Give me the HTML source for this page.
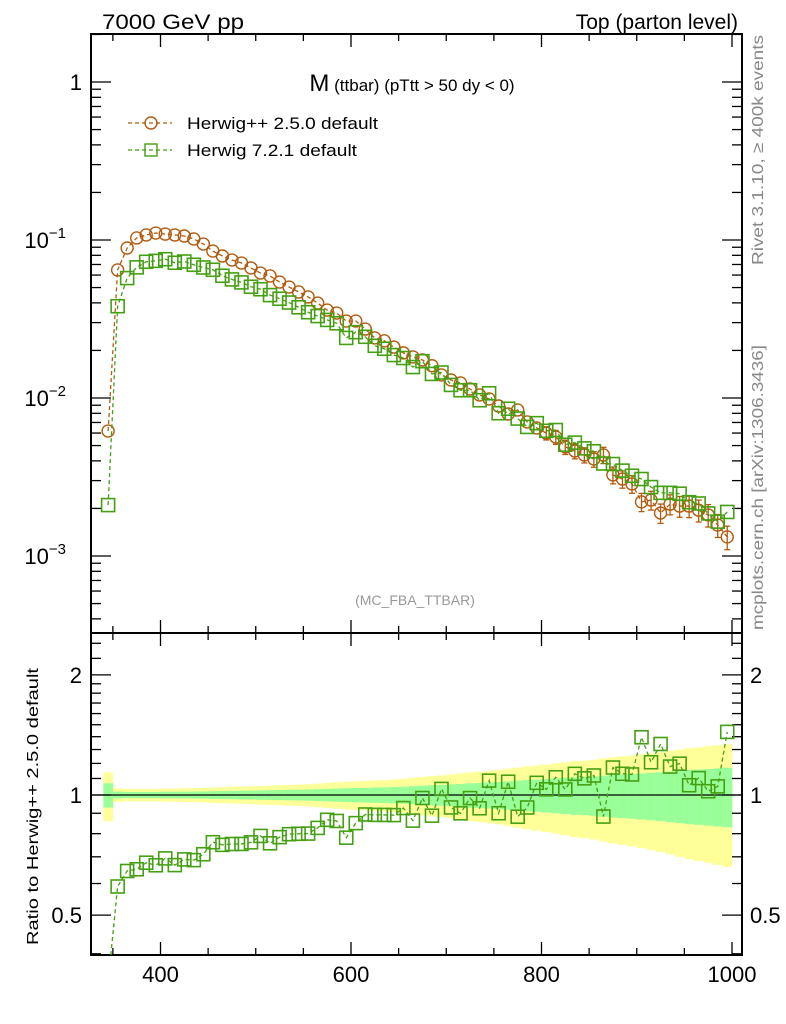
<!DOCTYPE html>
<html><head><meta charset="utf-8"><style>
html,body{margin:0;padding:0;background:#fff;}
svg{display:block;font-family:"Liberation Sans",sans-serif;}
</style></head><body>
<svg id="c" width="786" height="1024" viewBox="0 0 786 1024" xmlns="http://www.w3.org/2000/svg">
<text x="102" y="29" font-size="21" textLength="142" lengthAdjust="spacingAndGlyphs">7000 GeV pp</text>
<text x="738" y="29" font-size="21" text-anchor="end">Top (parton level)</text>
<text x="412" y="91" text-anchor="middle"><tspan font-size="24">M</tspan><tspan font-size="17"> (ttbar) (pTtt &gt; 50 dy &lt; 0)</tspan></text>
<text x="415" y="605" font-size="14" fill="#999" text-anchor="middle">(MC_FBA_TTBAR)</text>
<text transform="translate(763,265) rotate(-90)" font-size="16" fill="#888" textLength="230" lengthAdjust="spacingAndGlyphs">Rivet 3.1.10, ≥ 400k events</text>
<text transform="translate(763,630) rotate(-90)" font-size="16" fill="#888" textLength="285" lengthAdjust="spacingAndGlyphs">mcplots.cern.ch [arXiv:1306.3436]</text>
<text transform="translate(38,945) rotate(-90)" font-size="16" textLength="277" lengthAdjust="spacingAndGlyphs">Ratio to Herwig++ 2.5.0 default</text>
<g>
 <g>
  <line x1="128" y1="123" x2="172" y2="123" stroke="#b35a0c" stroke-width="1.3" stroke-dasharray="4,3"/>
  <circle cx="151" cy="123" r="6" fill="none" stroke="#b35a0c" stroke-width="1.4"/>
  <text x="187" y="129" font-size="17" textLength="191" lengthAdjust="spacingAndGlyphs">Herwig++ 2.5.0 default</text>
 </g>
 <g>
  <line x1="128" y1="150" x2="172" y2="150" stroke="#44a012" stroke-width="1.3" stroke-dasharray="4,3"/>
  <rect x="145" y="144" width="12" height="12" fill="none" stroke="#44a012" stroke-width="1.4"/>
  <text x="187" y="156" font-size="17" textLength="170" lengthAdjust="spacingAndGlyphs">Herwig 7.2.1 default</text>
 </g>
</g>
<g id="bands"></g>
<g id="axes"></g>
<g id="series"></g>
</svg>
<script>
const binCenters=[345,355,365,375,385,395,405,415,425,435,445,455,465,475,485,495,505,515,525,535,545,555,565,575,585,595,605,615,625,635,645,655,665,675,685,695,705,715,725,735,745,755,765,775,785,795,805,815,825,835,845,855,865,875,885,895,905,915,925,935,945,955,965,975,985,995];
const herwigpp=[0.00618,0.0646,0.0890,0.103,0.1076,0.1107,0.109,0.1076,0.106,0.1015,0.0943,0.0851,0.0792,0.0747,0.0715,0.0665,0.0618,0.0592,0.0542,0.0504,0.0469,0.0436,0.0399,0.0360,0.0345,0.0307,0.0307,0.0273,0.0240,0.0230,0.0210,0.0193,0.0182,0.0174,0.0160,0.0140,0.0130,0.01245,0.0114,0.01045,0.00986,0.0089,0.00792,0.0084,0.00705,0.00646,0.0060,0.00566,0.0049,0.00462,0.00436,0.00411,0.00436,0.00326,0.00307,0.00286,0.0022,0.00226,0.00187,0.00213,0.00207,0.00207,0.00195,0.00182,0.00157,0.00132];
const herwig7=[0.00210,0.0381,0.0574,0.0671,0.0728,0.0738,0.0756,0.0718,0.0731,0.0697,0.0670,0.0648,0.0594,0.0563,0.0539,0.0506,0.0488,0.0448,0.0425,0.0402,0.0375,0.0349,0.0330,0.0312,0.0297,0.0240,0.0261,0.0244,0.0214,0.0205,0.0187,0.0179,0.0157,0.0171,0.0142,0.0145,0.0121,0.0112,0.0112,0.00968,0.01071,0.00801,0.00855,0.00741,0.00656,0.00693,0.00620,0.00627,0.00506,0.00522,0.00480,0.00460,0.00385,0.00382,0.00347,0.00322,0.00307,0.00273,0.00251,0.00251,0.00248,0.00219,0.00215,0.00186,0.00165,0.00190];
const relErr=[0.07,0.02,0.018,0.018,0.018,0.018,0.019,0.019,0.02,0.02,0.021,0.022,0.023,0.024,0.025,0.026,0.027,0.028,0.029,0.03,0.031,0.032,0.034,0.036,0.038,0.04,0.041,0.042,0.044,0.045,0.047,0.049,0.052,0.055,0.058,0.06,0.063,0.066,0.07,0.072,0.075,0.078,0.082,0.086,0.09,0.093,0.096,0.1,0.104,0.108,0.11,0.113,0.118,0.122,0.125,0.128,0.132,0.136,0.14,0.145,0.15,0.155,0.158,0.162,0.166,0.17];
const xTickLabels=[400,600,800,1000];
const mainTickLabels=[1,0.1,0.01,0.001];
const ratioTickLabels=[2,1,0.5];

const NS="http://www.w3.org/2000/svg";
const L=91,R=742,T=34,M=633,B=955;
const X=v=>160.5+(v-400)*0.9525;
const Y=v=>82-158*Math.log10(v);
const YR=v=>795-399*Math.log10(v);
const BROWN="#b35a0c",GREEN="#44a012";
function mk(tag,attrs,parent){const e=document.createElementNS(NS,tag);for(const k in attrs)e.setAttribute(k,attrs[k]);parent.appendChild(e);return e;}
const bands=document.getElementById('bands'),axes=document.getElementById('axes'),series=document.getElementById('series');

const clipR=v=>Math.max(M,Math.min(B,v));
binCenters.forEach((c,i)=>{
  const x0=X(c-5),x1=X(c+5),e=relErr[i];
  const y=mk('rect',{x:x0,y:clipR(YR(1+2*e)),width:x1-x0+0.3,height:clipR(YR(Math.max(0.01,1-2*e)))-clipR(YR(1+2*e)),fill:'#ffff99'},bands);
  
  
  const g=mk('rect',{x:x0,y:YR(1+e),width:x1-x0+0.3,height:YR(1-e)-YR(1+e),fill:'#99ff99'},bands);
  
  
});
mk('line',{x1:L,x2:R,y1:YR(1),y2:YR(1),stroke:'#000','stroke-width':1.3},bands);

const f1=mk('rect',{x:L,y:T,width:R-L,height:M-T,fill:'none',stroke:'#000','stroke-width':2},axes);


const f2=mk('rect',{x:L,y:M,width:R-L,height:B-M,fill:'none',stroke:'#000','stroke-width':2},axes);



for(let v=350;v<=1000;v+=50){
  const x=X(v),len=(v%200===0)?13:7;
  [[T,1],[M,-1],[M,1],[B,-1]].forEach(([y,d])=>mk('line',{x1:x,x2:x,y1:y,y2:y+d*len,stroke:'#000','stroke-width':1.3},axes));
}
xTickLabels.forEach(v=>{
  const t=mk('text',{x:X(v),y:982,'font-size':22,'text-anchor':'middle'},axes);
  t.textContent=v;
  
  
});
for(let d=-4;d<=0;d++){
  for(let k=1;k<10;k++){
    const v=k*Math.pow(10,d),y=Y(v);
    if(y<T||y>M)continue;
    const len=k===1?20:10;
    mk('line',{x1:L,x2:L+len,y1:y,y2:y,stroke:'#000','stroke-width':1.3},axes);
    mk('line',{x1:R,x2:R-len,y1:y,y2:y,stroke:'#000','stroke-width':1.3},axes);
  }
}
mainTickLabels.forEach(v=>{
  const t=mk('text',{x:82,y:Y(v)+8,'font-size':22,'text-anchor':'end'},axes);
  
  
  if(v===1){t.textContent='1';}
  else{const e=Math.round(Math.log10(v));
    t.setAttribute('x',66);
    const a=document.createElementNS(NS,'tspan');a.textContent='10';t.appendChild(a);
    const b=document.createElementNS(NS,'tspan');b.textContent='−'+(-e);b.setAttribute('font-size',15);b.setAttribute('dy',-10);t.appendChild(b);
  }
});
[0.4,0.5,0.6,0.7,0.8,0.9,1,1.1,1.2,1.3,1.4,1.5,1.6,1.7,1.8,1.9,2,2.2,2.4].forEach(v=>{
  const y=YR(v);if(y<M||y>B)return;
  const len=(v===0.5||v===1||v===2)?20:10;
  mk('line',{x1:L,x2:L+len,y1:y,y2:y,stroke:'#000','stroke-width':1.3},axes);
  mk('line',{x1:R,x2:R-len,y1:y,y2:y,stroke:'#000','stroke-width':1.3},axes);
});
ratioTickLabels.forEach(v=>{
  [[82,'end'],[750,'start']].forEach(([x,a])=>{
    const t=mk('text',{x:x,y:YR(v)+8,'font-size':22,'text-anchor':a},axes);
    t.textContent=v;
    
    
  });
});

function drawSeries(vals,color,shape,errScale,name){
  const g=mk('g',{},series);
  
  
  const pts=binCenters.map((c,i)=>[X(c),Y(vals[i])]);
  mk('polyline',{points:pts.map(p=>p[0]+','+p[1]).join(' '),fill:'none',stroke:color,'stroke-width':1.3,'stroke-dasharray':'4,3'},g);
  pts.forEach((p,i)=>{
    const e=relErr[i]*errScale,v=vals[i];
    const y1=Y(v*(1+e)),y2=Y(v*(1-e));
    if(y2-y1>13){
      mk('line',{x1:p[0],x2:p[0],y1:y1,y2:y2,stroke:color,'stroke-width':1.3},g);
      mk('line',{x1:p[0]-3,x2:p[0]+3,y1:y1,y2:y1,stroke:color,'stroke-width':1.3},g);
      mk('line',{x1:p[0]-3,x2:p[0]+3,y1:y2,y2:y2,stroke:color,'stroke-width':1.3},g);
    }
    let m;
    if(shape==='circle')m=mk('circle',{cx:p[0],cy:p[1],r:6,fill:'none',stroke:color,'stroke-width':1.4},g);
    else m=mk('rect',{x:p[0]-6.5,y:p[1]-6.5,width:13,height:13,fill:'none',stroke:color,'stroke-width':1.6},g);
    
    
  });
}
drawSeries(herwigpp,BROWN,'circle',1.0,'herwigpp-series');
drawSeries(herwig7,GREEN,'square',0.45,'herwig7-series');
const ratio7=herwig7.map((v,i)=>v/herwigpp[i]);
(function(){
  const g=mk('g',{},series);
  
  
  const pts=binCenters.map((c,i)=>[X(c),YR(ratio7[i])]);
  const p0=pts[0],p1=pts[1];
  const t=(B-p1[1])/(p0[1]-p1[1]);
  const first=[p1[0]+(p0[0]-p1[0])*t,B];
  const poly=[first].concat(pts.slice(1)).map(p=>p[0]+','+p[1]).join(' ');
  mk('polyline',{points:poly,fill:'none',stroke:GREEN,'stroke-width':1.3,'stroke-dasharray':'4,3'},g);
  pts.forEach((p,i)=>{
    if(p[1]<M||p[1]>B)return;
    const m=mk('rect',{x:p[0]-6.5,y:p[1]-6.5,width:13,height:13,fill:'none',stroke:GREEN,'stroke-width':1.6},g);
    
    
  });
})();
</script>
</body></html>
